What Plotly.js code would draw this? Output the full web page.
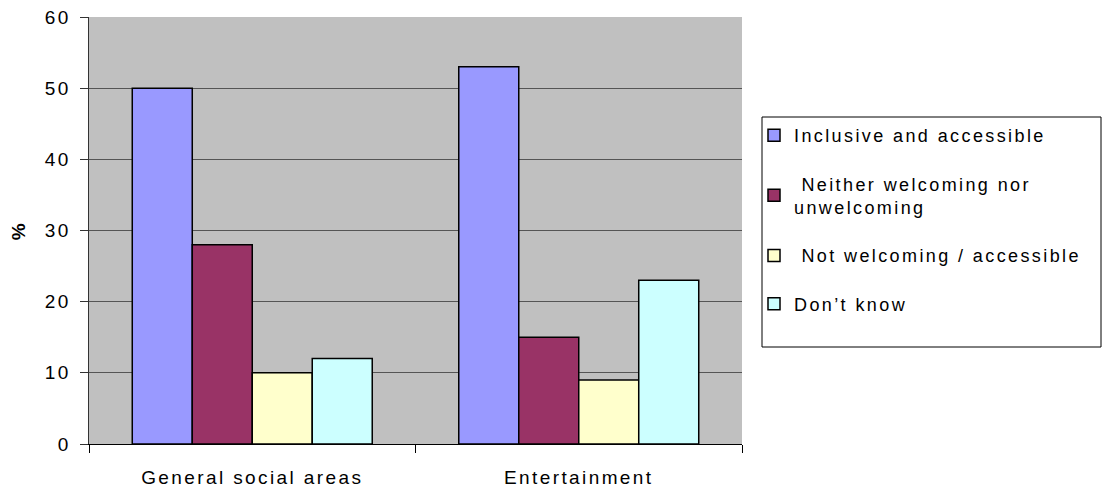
<!DOCTYPE html>
<html>
<head>
<meta charset="utf-8">
<script src="https://cdn.plot.ly/plotly-3.0.1.min.js"></script>
<style>
  html, body { margin: 0; padding: 0; background: #fff; }
  #chart { width: 1105px; height: 488px; }
  text { letter-spacing: 2.4px; }
</style>
</head>
<body>
<div id="chart"></div>
<script>
// Survey categories along the x axis
const categories = ['General social areas', 'Entertainment'];

// Share of respondents (%) for each answer
const inclusive = [50, 53];
const neither = [28, 15];
const notWelcoming = [10, 9];
const dontKnow = [12, 23];

const seriesNames = [
  'Inclusive and accessible',
  ' Neither welcoming nor<br>unwelcoming',
  ' Not welcoming / accessible',
  'Don\u2019t know'
];
const seriesValues = [inclusive, neither, notWelcoming, dontKnow];
const seriesColors = ['#9999FF', '#993366', '#FFFFCC', '#CCFFFF'];

const traces = seriesValues.map((vals, i) => ({
  type: 'bar',
  name: seriesNames[i],
  x: categories,
  y: vals,
  legendgroup: 'g' + i,
  marker: { color: seriesColors[i], line: { color: '#000000', width: 1.5 } },
  hoverinfo: 'skip'
}));

const family = 'Liberation Sans, Arial, sans-serif';
const axisFont = { family: family, size: 19, color: '#000000' };
const legendFont = { family: family, size: 18, color: '#000000' };

// paper-coordinate helpers for the legend frame (plot area spans 89..742 x 17..444 px)
const plotL = 89, plotW = 653, plotB = 444, plotH = 427;
const px = v => (v - plotL) / plotW;
const py = v => (plotB - v) / plotH;

const layout = {
  width: 1105,
  height: 488,
  margin: { l: 89, r: 363, t: 17, b: 44, pad: 0 },
  paper_bgcolor: '#ffffff',
  plot_bgcolor: '#C0C0C0',
  font: axisFont,
  barmode: 'group',
  bargap: 0.265,
  bargroupgap: 0,
  showlegend: true,
  legend: {
    x: px(754), xanchor: 'left',
    y: py(117), yanchor: 'top',
    bgcolor: 'rgba(0,0,0,0)',
    borderwidth: 0,
    font: legendFont,
    tracegroupgap: 22,
    traceorder: 'grouped',
    valign: 'middle'
  },
  shapes: [{
    type: 'rect', xref: 'paper', yref: 'paper', layer: 'above',
    x0: px(762), x1: px(1101), y0: py(347), y1: py(117),
    line: { color: '#000000', width: 1 }, fillcolor: '#ffffff'
  }],
  xaxis: {
    type: 'category',
    showgrid: false,
    zeroline: false,
    showline: true,
    linecolor: '#000000',
    linewidth: 1,
    ticks: 'outside',
    tickson: 'boundaries',
    ticklen: 8,
    tickcolor: '#000000',
    ticklabelstandoff: 16,
    tickfont: axisFont
  },
  yaxis: {
    range: [0, 60],
    tickvals: [0, 10, 20, 30, 40, 50, 60],
    showgrid: true,
    gridcolor: '#555555',
    gridwidth: 1,
    zeroline: false,
    showline: true,
    linecolor: '#333333',
    linewidth: 1.5,
    ticks: 'outside',
    ticklen: 8,
    tickcolor: '#333333',
    ticklabelstandoff: 5,
    tickfont: axisFont,
    title: { text: '<b>%</b>', font: { family: family, size: 19, color: '#000' }, standoff: 14 }
  }
};

Plotly.newPlot('chart', traces, layout, { staticPlot: true, displayModeBar: false });
</script>
</body>
</html>
